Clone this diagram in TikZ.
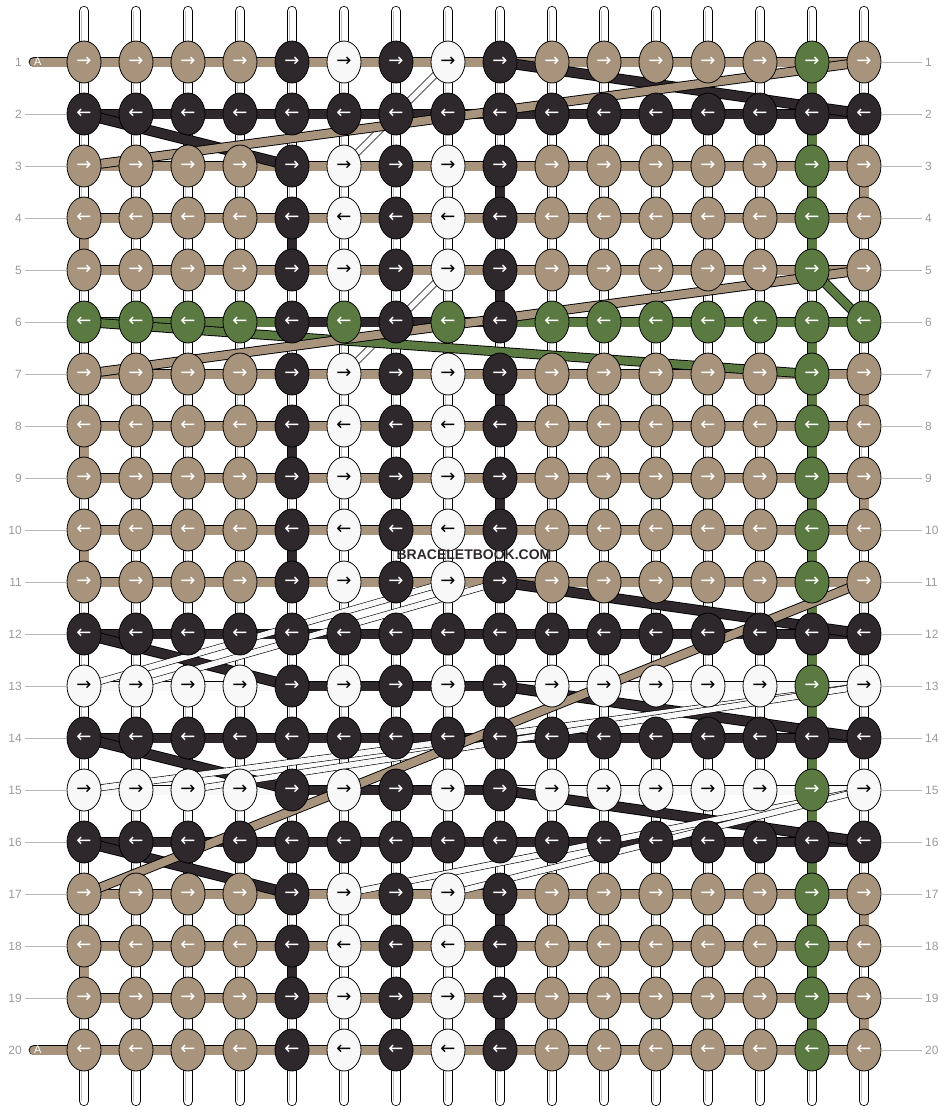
\documentclass[tikz,border=0pt]{standalone}
\usepackage{fontspec}
\setmainfont{Liberation Sans}
\newfontfamily\arrowfont{DejaVu Sans}
\usetikzlibrary{shapes.geometric}
\definecolor{tn}{HTML}{A8947D}
\definecolor{dk}{HTML}{2E282C}
\definecolor{gr}{HTML}{5A7A42}
\definecolor{wt}{HTML}{F8F8F8}
\definecolor{rowgray}{HTML}{9A9A9A}
\pgfdeclarelayer{strands}
\pgfsetlayers{strands,main}
%row types
\def\rowtypes{1/T,2/D,3/T,4/T,5/T,6/G,7/T,8/T,9/T,10/T,11/T,12/D,13/W,14/D,15/W,16/D,17/T,18/T,19/T,20/T}
%knot colours
\def\colsT{tn,tn,tn,tn,dk,wt,dk,wt,dk,tn,tn,tn,tn,tn,gr,tn}
\def\colsD{dk,dk,dk,dk,dk,dk,dk,dk,dk,dk,dk,dk,dk,dk,dk,dk}
\def\colsG{gr,gr,gr,gr,dk,gr,dk,gr,dk,gr,gr,gr,gr,gr,gr,gr}
\def\colsW{wt,wt,wt,wt,dk,wt,dk,wt,dk,wt,wt,wt,wt,wt,gr,wt}
%bar colours
\def\barsT{tn,tn,tn,tn,tn,tn,tn,tn,tn,tn,tn,tn,tn,tn,tn}
\def\barsD{dk,dk,dk,dk,dk,dk,dk,dk,dk,dk,dk,dk,dk,dk,dk}
\def\barsG{gr,gr,gr,gr,dk,dk,dk,dk,gr,gr,gr,gr,gr,gr,gr}
\def\barsW{wt,wt,wt,wt,dk,dk,dk,dk,wt,wt,wt,wt,wt,wt,wt}
\tikzset{
	knot/.style={ellipse, draw=black, line width=0.8pt, minimum width=34pt, minimum height=42pt, inner sep=0pt, font=\arrowfont\fontsize{18}{18}\selectfont},
	k-tn/.style={knot, fill=tn, text=white},
	k-dk/.style={knot, fill=dk, text=white},
	k-gr/.style={knot, fill=gr, text=white},
	k-wt/.style={knot, fill=wt, text=black},
	strand/.style={line width=0.9pt, double distance=9pt},
	band/.style={line width=0.6pt, double=wt, double distance=5.6pt},
	tube/.style={line width=0.8pt, double=white, double distance=8.6pt, line cap=round},
	tubeline/.style={line width=0.5pt, draw=black!25, double=white, double distance=5pt},
	rownum/.style={text=rowgray, font=\fontsize{12}{12}\selectfont, inner sep=3pt},
	wmark/.style={text=dk, font=\bfseries\fontsize{14}{14}\selectfont, inner sep=0pt}
}
\begin{document}
\begin{tikzpicture}[x=1pt, y=-1pt]
		\useasboundingbox (0,0) rectangle (948,1112);
		%knots
		\foreach \r/\ty in \rowtypes {
			\edef\cols{\csname cols\ty\endcsname}
			\ifodd\r \def\arr{→}\else \def\arr{←}\fi
			\foreach \col [count=\c] in \cols
				\node [k-\col] (n-\r-\c) at (32+52*\c, 10+52*\r) {\arr};
		}
		%row numbers
		\foreach \r in {1,...,20} {
			\node [rownum, anchor=east] (ll-\r) at (25, 10+52*\r) {\r};
			\node [rownum, anchor=west] (rl-\r) at (922, 10+52*\r) {\r};
			\draw [rowgray!70] (n-\r-16.east) to (rl-\r.west);
		}
		\foreach \r in {2,...,19}
			\draw [rowgray!70] (ll-\r.east) to (n-\r-1.west);
		\begin{pgfonlayer}{strands}
			%base strings
			\foreach \c in {1,...,16} {
				\coordinate (t-\c) at (32+52*\c, 11);
				\coordinate (b-\c) at (32+52*\c, 1101);
				\draw [tube] (t-\c) to (b-\c);
				\draw [tubeline] (t-\c) to (b-\c);
			}
			%coloured columns
			\foreach \r in {1,2,3,4,6,7,8,9,10,11,12,13,14,15,16,17,18,19} {
				\pgfmathtruncatemacro\s{\r+1}
				\draw [strand, double=gr] (n-\r-15.center) to (n-\s-15.center);
			}
			\foreach \r in {4,8,10,18} {
				\pgfmathtruncatemacro\s{\r+1}
				\draw [strand, double=tn] (n-\r-1.center) to (n-\s-1.center);
				\draw [strand, double=dk] (n-\r-5.center) to (n-\s-5.center);
			}
			\foreach \r in {3,5,7,9,17,19} {
				\pgfmathtruncatemacro\s{\r+1}
				\draw [strand, double=dk] (n-\r-9.center) to (n-\s-9.center);
			}
			\foreach \r in {3,7,9,17,19} {
				\pgfmathtruncatemacro\s{\r+1}
				\draw [strand, double=tn] (n-\r-16.center) to (n-\s-16.center);
			}
			%row bars
			\foreach \r/\ty in \rowtypes {
				\edef\bars{\csname bars\ty\endcsname}
				\foreach \bc [count=\c] in \bars {
					\pgfmathtruncatemacro\d{\c+1}
					\draw [strand, double=\bc] (n-\r-\c.center) to (n-\r-\d.center);
				}
			}
			%start
			\coordinate (s-1) at (34,62);
			\coordinate (s-20) at (34,1050);
			\draw [strand, double=tn, line cap=round] (s-1) to (n-1-1.center);
			\draw [strand, double=tn, line cap=round] (s-20) to (n-20-1.center);
			%dark crossings
			\draw [strand, double=dk] (n-1-9.center) to (n-2-16.center);
			\draw [strand, double=dk] (n-2-1.center) to (n-3-5.center);
			\draw [strand, double=dk] (n-11-9.center) to (n-12-16.center);
			\draw [strand, double=dk] (n-12-1.center) to (n-13-5.center);
			\draw [strand, double=dk] (n-13-9.center) to (n-14-16.center);
			\draw [strand, double=dk] (n-14-1.center) to (n-15-5.center);
			\draw [strand, double=dk] (n-15-9.center) to (n-16-16.center);
			\draw [strand, double=dk] (n-16-1.center) to (n-17-5.center);
			%white crossings
			\draw [band] (n-1-8.center) to (n-3-6.center);
			\draw [band] (n-5-8.center) to (n-7-6.center);
			\draw [band] (n-11-8.center) to (n-13-1.center);
			\draw [band] (n-11-9.center) to (n-13-2.center);
			\draw [band] (n-13-16.center) to (n-15-1.center);
			\draw [band] (n-13-16.center) to (n-15-3.center);
			\draw [band] (n-15-16.center) to (n-17-6.center);
			\draw [band] (n-15-16.center) to (n-17-8.center);
			%green crossings
			\draw [strand, double=gr, double distance=8pt] (n-5-15.center) to (n-6-16.center);
			\draw [strand, double=gr, double distance=8pt] (n-6-1.center) to (n-7-15.center);
			%tan crossings
			\draw [strand, double=tn, double distance=8pt] (n-1-16.center) to (n-3-1.center);
			\draw [strand, double=tn, double distance=8pt] (n-5-16.center) to (n-7-1.center);
			\draw [strand, double=tn, double distance=8pt] (n-11-16.center) to (n-17-1.center);
		\end{pgfonlayer}
		\node [text=white, font=\fontsize{11}{11}\selectfont, anchor=west, inner sep=0pt] (a-1) at (s-1) {A};
		\node [text=white, font=\fontsize{11}{11}\selectfont, anchor=west, inner sep=0pt] (a-20) at (s-20) {A};
		\node [wmark] (wm) at (474,555) {BRACELETBOOK.COM};
\end{tikzpicture}
\end{document}
